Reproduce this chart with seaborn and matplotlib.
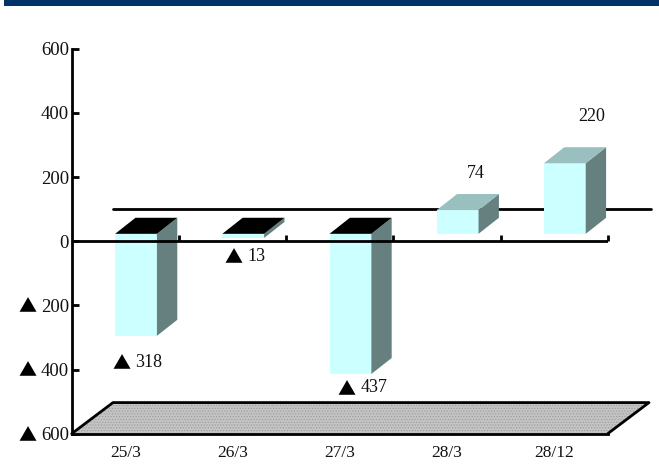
import matplotlib
matplotlib.use("Agg")
import matplotlib.pyplot as plt
import pandas as pd
import seaborn as sns
from matplotlib.patches import Polygon, Rectangle

# data
categories = ["25/3", "26/3", "27/3", "28/3", "28/12"]
values = [-318, -13, -437, 74, 220]
y_ticks = [600, 400, 200, 0, -200, -400, -600]

# left edge of each value label relative to its bar end, in points
label_offsets = [(-0.7, -19), (3, -13), (7, -10), (6.5, 26), (9.4, 34)]

sns.set_style("white")
plt.rcParams["font.family"] = ["Liberation Serif", "DejaVu Sans"]
plt.rcParams["hatch.linewidth"] = 0.5

LW = 2.0
FRONT = "#ccffff"
SIDE = "#668080"
TOP_POS = "#99bfbf"
TOP_NEG = "#000000"
TEXT = "#111111"
MARK = "▲"
MARK_FONT = "Noto Sans CJK JP"
MARK_SIZE = 13
MARK_DROP = 1.5

df = pd.DataFrame({"day": categories, "value": values})

fig = plt.figure(figsize=(6.59, 4.72), dpi=100)
ax = fig.add_axes([71.7 / 659, 1 - 433.7 / 472, 536 / 659, 385 / 472])

# navy band along the top
fig.add_artist(Rectangle((4 / 659, 1 - 6 / 472), 655 / 659, 6 / 472, transform=fig.transFigure,
                         facecolor="#003366", edgecolor="none"))

sns.barplot(data=df, x="day", y="value", color=FRONT, saturation=1, width=0.39, ax=ax, zorder=3)

ax.set_xlim(-0.5, 4.5)
ax.set_ylim(-600, 600)

# 3d look: bars float a bit above the zero line and are shifted to the right
base = 23
shift = 0.1
depth_x = 0.19
depth_y = 50

for p in ax.patches:
    p.set_x(p.get_x() + shift)
    p.set_y(p.get_y() + base)
    p.set_linewidth(0)
    x0 = p.get_x()
    x1 = x0 + p.get_width()
    h = p.get_height()
    low = base + min(h, 0)
    high = base + max(h, 0)
    ax.add_patch(Polygon([(x1, low), (x1 + depth_x, low + depth_y), (x1 + depth_x, high + depth_y), (x1, high)],
                         facecolor=SIDE, edgecolor="none", zorder=3))
    ax.add_patch(Polygon([(x0, high), (x0 + depth_x, high + depth_y), (x1 + depth_x, high + depth_y), (x1, high)],
                         facecolor=TOP_POS if h > 0 else TOP_NEG, edgecolor="none", zorder=3))

# floor and back wall
floor_dx = 0.385
floor_dy = 97
floor = [(-0.5, -600), (-0.5 + floor_dx, -600 + floor_dy), (4.5 + floor_dx, -600 + floor_dy), (4.5, -600)]
ax.add_patch(Polygon(floor, facecolor="#c4c4c4", edgecolor="#999999", hatch="......", linewidth=0,
                     clip_on=False, zorder=1))
ax.plot([p[0] for p in floor], [p[1] for p in floor], color="black", lw=LW, clip_on=False, zorder=2,
        solid_capstyle="round")
ax.plot([-0.5 + floor_dx, 4.5 + 0.4], [100, 100], color="black", lw=LW, clip_on=False, zorder=2)

# zero line sits over the bars
ax.axhline(0, color="black", lw=LW, zorder=4)
boundaries = [i + 0.5 for i in range(len(categories))]
ax.vlines(boundaries, 0, 19, color="black", lw=LW, zorder=4, clip_on=False)

# axes
sns.despine(ax=ax)
for side in ["left", "bottom"]:
    ax.spines[side].set_linewidth(LW)
    ax.spines[side].set_color("black")
    ax.spines[side].set_zorder(5)

ax.set_yticks(y_ticks)
ax.set_yticklabels([str(abs(t)) for t in y_ticks], fontsize=13.5, color=TEXT)
ax.tick_params(axis="y", direction="in", length=5, width=LW, pad=2, left=True, color="black")
ax.set_xticks(range(len(categories)))
ax.set_xticklabels(categories, fontsize=12.5, color=TEXT)
ax.set_xticks(boundaries, minor=True)
ax.tick_params(axis="x", which="major", length=0, pad=8)
ax.tick_params(axis="x", which="minor", direction="in", length=4.5, width=LW, bottom=True, color="black")
ax.set_xlabel("")
ax.set_ylabel("")

# the triangle means a negative number, it needs the larger CJK glyph
for t in y_ticks:
    if t < 0:
        ax.annotate(MARK, xy=(0, t), xycoords=ax.get_yaxis_transform(), xytext=(-32, -MARK_DROP),
                    textcoords="offset points", ha="center", va="center", fontsize=MARK_SIZE,
                    family=MARK_FONT, color="black", annotation_clip=False)

# value labels
for i, (val, off) in enumerate(zip(values, label_offsets)):
    end = (i + shift, base + val)
    ax.annotate(str(abs(val)), xy=end, xytext=off, textcoords="offset points",
                ha="left", va="center", fontsize=13, color=TEXT, zorder=6)
    if val < 0:
        ax.annotate(MARK, xy=end, xytext=(off[0] - 10, off[1] - MARK_DROP), textcoords="offset points",
                    ha="center", va="center", fontsize=MARK_SIZE, family=MARK_FONT, color="black", zorder=6)

fig.savefig("out.png", dpi=100)
